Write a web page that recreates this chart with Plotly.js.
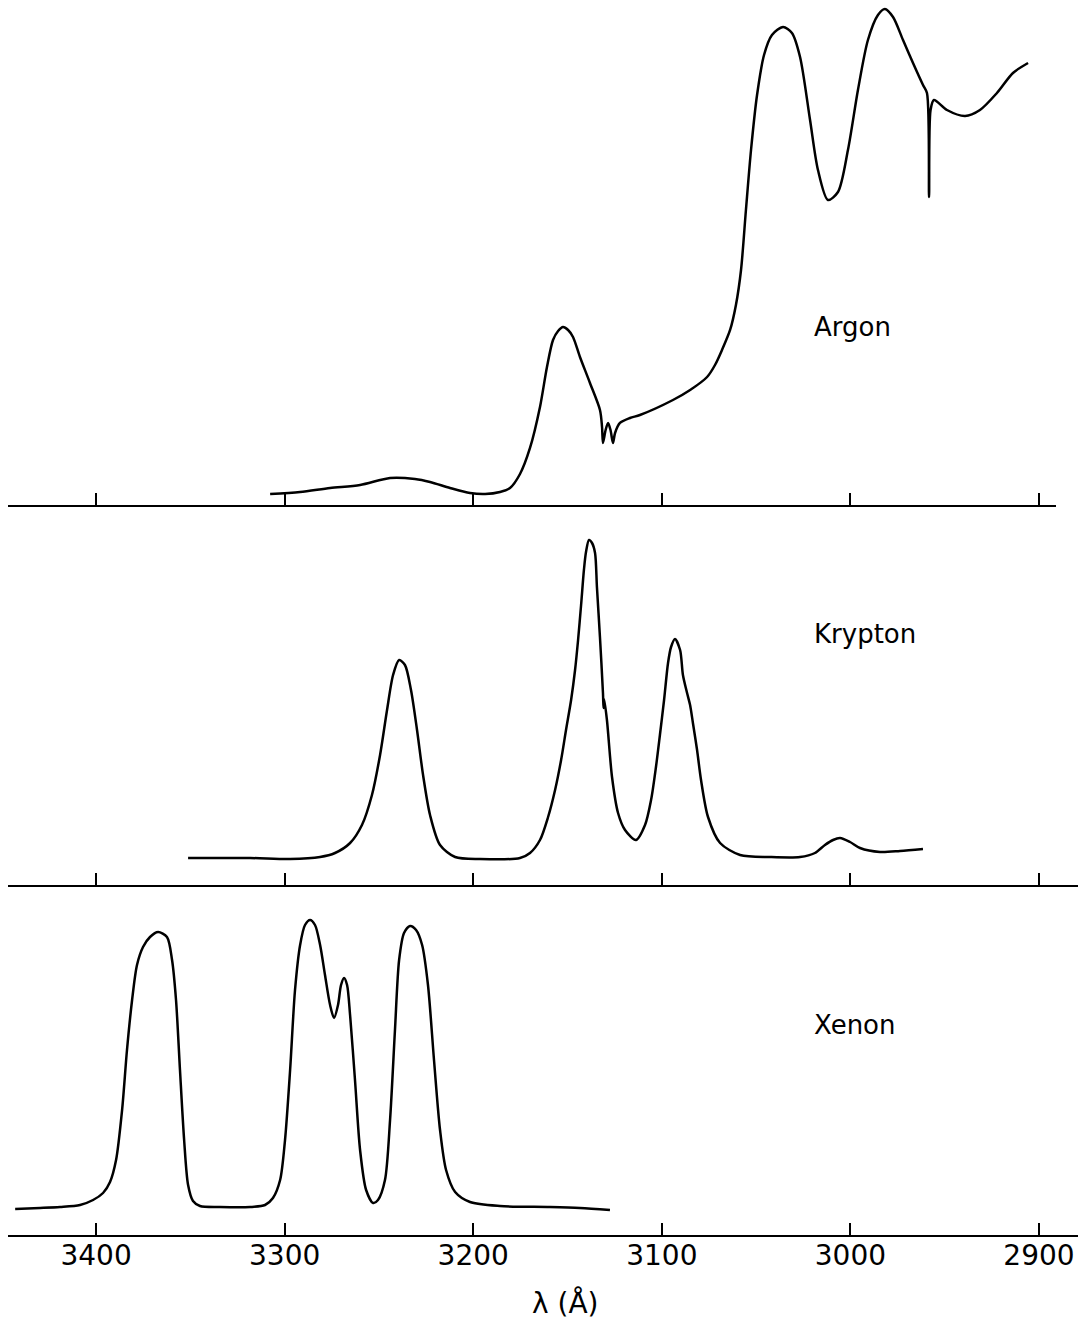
<!DOCTYPE html>
<html>
<head>
<meta charset="utf-8">
<script src="https://cdn.plot.ly/plotly-3.0.1.min.js"></script>
<style>html,body{margin:0;padding:0;background:#fff;}#chart{width:1081px;height:1321px;}</style>
</head>
<body>
<div id="chart"></div>
<script>
// Wavelength (Å) and relative intensity (arbitrary units, 0 = panel baseline axis)
const argonWavelength = [3307.7,3291.8,3275.9,3260.0,3244.1,3230.9,3222.9,3212.3,3201.7,3193.7,3185.8,3180.5,3175.2,3169.9,3164.6,3160.9,3157.7,3155.0,3152.4,3149.7,3147.1,3143.4,3138.1,3132.8,3131.7,3131.2,3129.8,3128.5,3127.2,3125.9,3124.8,3122.2,3116.9,3111.6,3094.1,3085.0,3076.0,3071.8,3068.1,3063.8,3060.7,3058.0,3055.4,3052.7,3049.5,3045.8,3041.6,3035.7,3031.0,3026.7,3021.4,3017.2,3011.9,3006.6,3001.3,2996.0,2990.7,2985.4,2981.7,2977.4,2972.1,2966.8,2961.5,2959.4,2958.3,2957.5,2955.7,2948.8,2939.2,2931.3,2922.3,2913.8,2905.8];
const argonIntensity = [11,13,17,20,27,26,23,17,12,11,13,17,31,57,98,138,165,174,178,175,168,148,122,95,78,62,75,82,75,62,72,82,87,90,105,115,128,140,155,175,200,235,295,355,410,450,470,478,472,448,385,335,305,313,355,415,465,490,496,488,465,442,420,412,308,395,405,395,389,395,412,432,442];

const kryptonWavelength = [3351.2,3318.3,3297.1,3281.2,3273.3,3265.3,3259.0,3253.7,3249.4,3245.7,3242.5,3239.3,3236.2,3233.0,3229.8,3226.6,3222.9,3217.6,3209.6,3196.4,3175.2,3169.9,3164.6,3160.3,3156.6,3153.4,3150.8,3148.1,3146.0,3144.4,3142.8,3141.3,3140.2,3138.6,3137.0,3135.4,3134.4,3132.8,3131.2,3130.9,3130.6,3129.1,3126.4,3123.2,3119.5,3113.7,3108.9,3105.7,3103.1,3101.0,3098.8,3096.7,3095.1,3093.0,3090.3,3088.8,3086.6,3085.0,3083.5,3081.3,3079.2,3075.5,3069.1,3058.5,3042.6,3026.7,3018.8,3013.5,3009.2,3005.5,3000.2,2994.9,2984.3,2973.7,2961.5];
const kryptonIntensity = [27,27,26,28,32,42,60,90,130,175,210,225,220,195,155,110,70,40,28,26,27,32,45,68,95,125,155,185,215,245,280,315,333,345,342,332,298,248,192,177,186,165,108,72,55,45,60,85,118,150,185,222,238,246,235,210,192,180,162,135,105,68,42,30,28,28,32,40,45,47,43,37,33,34,36];

const xenonWavelength = [3442.9,3429.7,3419.1,3408.5,3401.6,3396.3,3392.6,3389.4,3386.2,3383.6,3380.9,3378.3,3375.1,3371.4,3367.1,3362.4,3359.7,3357.6,3355.5,3353.3,3351.2,3348.6,3344.9,3334.3,3318.3,3310.4,3306.2,3302.4,3299.8,3297.1,3294.5,3291.8,3289.2,3286.5,3283.9,3281.2,3278.6,3275.9,3273.8,3271.7,3270.1,3268.5,3266.9,3265.3,3262.7,3260.0,3256.8,3253.1,3250.5,3246.8,3244.1,3241.5,3239.3,3236.7,3233.5,3230.3,3227.1,3224.0,3220.8,3217.6,3214.4,3209.6,3201.7,3185.8,3159.3,3143.4,3127.5];
const xenonIntensity = [26,27,28,30,35,42,53,75,125,185,235,270,288,298,303,298,275,235,165,95,50,34,29,28,28,30,37,55,95,165,245,290,310,315,310,290,260,230,217,230,250,257,250,220,155,85,45,32,35,55,115,205,275,302,309,305,290,250,175,105,65,43,33,29,28,27,25];

const tickValues = [3400,3300,3200,3100,3000,2900];
const tickLabels = ["3400","3300","3200","3100","3000","2900"];
const gasNames = ["Argon","Krypton","Xenon"];
const labelPos = [[3020.4,178],[3020.4,251],[3020.4,210]];
const axisTitle = "λ (Å)";

const xRange = [3446.7, 2879.3];
const xRangeTop = [3446.7, 2891.0];
const lineStyle = {color:'#000', width:2.5, shape:'spline', smoothing:0.8};
const font = "DejaVu Sans, sans-serif";

const traces = [
  {x: argonWavelength, y: argonIntensity, xaxis:'x3', yaxis:'y', mode:'lines', line:lineStyle, name:gasNames[0]},
  {x: kryptonWavelength, y: kryptonIntensity, xaxis:'x2', yaxis:'y2', mode:'lines', line:lineStyle, name:gasNames[1]},
  {x: xenonWavelength, y: xenonIntensity, xaxis:'x', yaxis:'y3', mode:'lines', line:lineStyle, name:gasNames[2]}
];

const axisCommon = {
  range: xRange, autorange:false, showgrid:false, zeroline:false,
  showline:true, linecolor:'#000', linewidth:2,
  ticks:'inside', ticklen:12, tickwidth:2, tickcolor:'#000',
  tickmode:'array', tickvals: tickValues
};
const yCommon = {visible:false, showgrid:false, zeroline:false, autorange:false};

const annotations = gasNames.map((n, i) => ({
  text: n, xref: i===0?'x3':(i===1?'x2':'x'), yref: i===0?'y':(i===1?'y2':'y3'),
  x: labelPos[i][0], y: labelPos[i][1], xanchor:'left', yanchor:'middle',
  showarrow:false, font:{family:font, size:26, color:'#000'}
}));
annotations.push({text: axisTitle, xref:'paper', yref:'paper', x:0.5206, y:-0.055,
  xanchor:'center', yanchor:'middle', showarrow:false, font:{family:font, size:28, color:'#000'}});

const layout = {
  width:1081, height:1321,
  margin:{l:8, r:3, t:0, b:86, pad:0},
  paper_bgcolor:'#fff', plot_bgcolor:'rgba(0,0,0,0)',
  showlegend:false,
  font:{family:font, color:'#000'},
  xaxis: Object.assign({}, axisCommon, {anchor:'y3', ticktext: tickLabels, showticklabels:true,
    ticklabelstandoff:-6, tickfont:{family:font, size:28, color:'#000'}}),
  xaxis2: Object.assign({}, axisCommon, {anchor:'y2', showticklabels:false}),
  xaxis3: Object.assign({}, axisCommon, {anchor:'y', range:xRangeTop, domain:[0, 0.9794], showticklabels:false}),
  yaxis: Object.assign({}, yCommon, {domain:[0.5911, 1], range:[0, 505]}),
  yaxis2: Object.assign({}, yCommon, {domain:[0.2834, 0.583], range:[0, 370]}),
  yaxis3: Object.assign({}, yCommon, {domain:[0, 0.2753], range:[0, 340]}),
  annotations: annotations
};

Plotly.newPlot('chart', traces, layout, {staticPlot:true, displayModeBar:false});
</script>
</body>
</html>
